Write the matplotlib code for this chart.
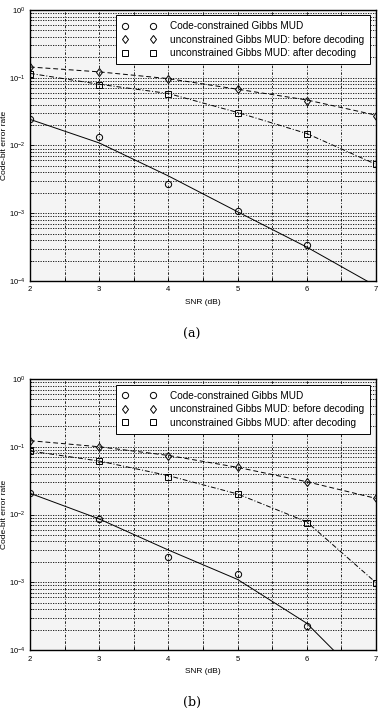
import numpy as np
import matplotlib
matplotlib.use("Agg")
import matplotlib.pyplot as plt
from matplotlib.lines import Line2D
from matplotlib.ticker import LogLocator, FixedLocator, NullFormatter

plt.rcParams['font.family'] = ['Liberation Sans', 'DejaVu Sans']

snr = [2, 3, 4, 5, 6, 7]

# panel (a): measured points
a_code = [0.0243, 0.0135, 0.00267, 0.00108, 0.000336]
a_before = [0.144, 0.120, 0.095, 0.0676, 0.0459, 0.0275]
a_after = [0.1136, 0.078, 0.0569, 0.0299, 0.0146, 0.00527]
# panel (a): fitted curves
a_code_fit = [0.0243, 0.0109, 0.00355, 0.00105, 0.000316, 0.000084]
a_before_fit = [0.144, 0.122, 0.097, 0.0676, 0.0470, 0.0280]
a_after_fit = [0.116, 0.080, 0.0585, 0.0307, 0.0150, 0.00527]

# panel (b): measured points
b_code = [0.0206, 0.0086, 0.00238, 0.00131, 0.000226]
b_before = [0.123, 0.100, 0.0731, 0.0497, 0.0305, 0.0173]
b_after = [0.0865, 0.0616, 0.0358, 0.0201, 0.0074, 0.000986]
# panel (b): fitted curves
snr_b_code_fit = [2, 3, 4, 5, 6, 6.5]
b_code_fit = [0.0206, 0.0086, 0.00299, 0.0011, 0.000248, 0.000076]
b_before_fit = [0.123, 0.100, 0.0745, 0.0497, 0.0305, 0.0173]
b_after_fit = [0.0865, 0.0616, 0.0375, 0.0201, 0.0078, 0.000986]

labels = ['Code-constrained Gibbs MUD',
          'unconstrained Gibbs MUD: before decoding',
          'unconstrained Gibbs MUD: after decoding']

fig = plt.figure(figsize=(3.84, 7.13), dpi=100)


def panel(rect, code, before, after, code_fit_x, code_fit, before_fit, after_fit):
    ax = fig.add_axes(rect)
    ax.set_facecolor('#f4f4f4')
    ax.set_yscale('log')
    ax.set_xlim(2, 7)
    ax.set_ylim(1e-4, 1)

    # fitted curves
    ax.plot(code_fit_x, code_fit, '-', color='k', lw=0.7)
    ax.plot(snr, before_fit, '--', color='k', lw=0.7, dashes=(5, 3))
    ax.plot(snr, after_fit, '-.', color='k', lw=0.7, dashes=(5, 2, 1, 2))
    # points
    ax.plot(snr[:len(code)], code, 'o', mfc='none', mec='k', ms=4.5, mew=0.7)
    ax.plot(snr, before, 'd', mfc='none', mec='k', ms=4.5, mew=0.7)
    ax.plot(snr, after, 's', mfc='none', mec='k', ms=4, mew=0.7)

    ax.xaxis.set_major_locator(FixedLocator(np.arange(2, 7.01, 0.5)))
    ax.set_xticklabels(['2', '', '3', '', '4', '', '5', '', '6', '', '7'])
    ax.yaxis.set_major_locator(LogLocator(base=10, numticks=10))
    ax.yaxis.set_minor_locator(LogLocator(base=10, subs=np.arange(2, 10), numticks=20))
    ax.yaxis.set_minor_formatter(NullFormatter())
    ax.tick_params(which='both', direction='in', labelsize=5.5, length=3, width=0.6)
    ax.tick_params(which='minor', length=1.5)
    ax.tick_params(axis='x', pad=4)
    ax.grid(True, which='major', axis='x', color='k', ls=(0, (3, 2, 1, 2)), lw=0.6)
    ax.grid(True, which='both', axis='y', color='k', ls=(0, (1.5, 1.5)), lw=0.6)
    for s in ax.spines.values():
        s.set_linewidth(1.0)

    ax.set_xlabel('SNR (dB)', fontsize=6, labelpad=4)
    ax.set_ylabel('Code-bit error rate', fontsize=6)
    ax.yaxis.set_label_coords(-0.064, 0.5)

    handles = [Line2D([], [], ls='none', marker=m, mfc='none', mec='k', ms=ms, mew=0.7)
               for m, ms in (('o', 4.5), ('d', 4.5), ('s', 4))]
    leg = ax.legend(handles, labels, loc='upper right', numpoints=2, fontsize=7.2,
                    frameon=True, fancybox=False, edgecolor='k', framealpha=1,
                    borderpad=0.6, labelspacing=0.35, handlelength=3.4,
                    handletextpad=1.4, borderaxespad=0.55)
    leg.get_frame().set_linewidth(0.7)
    return ax


panel([0.078, 0.606, 0.901, 0.380], a_code, a_before, a_after,
      snr, a_code_fit, a_before_fit, a_after_fit)
panel([0.078, 0.0884, 0.901, 0.380], b_code, b_before, b_after,
      snr_b_code_fit, b_code_fit, b_before_fit, b_after_fit)

fig.text(0.5, 1 - 334 / 713, '(a)', ha='center', va='center', fontsize=9,
         family='DejaVu Serif')
fig.text(0.5, 1 - 702 / 713, '(b)', ha='center', va='center', fontsize=9,
         family='DejaVu Serif')

fig.savefig('out.png', dpi=100)
